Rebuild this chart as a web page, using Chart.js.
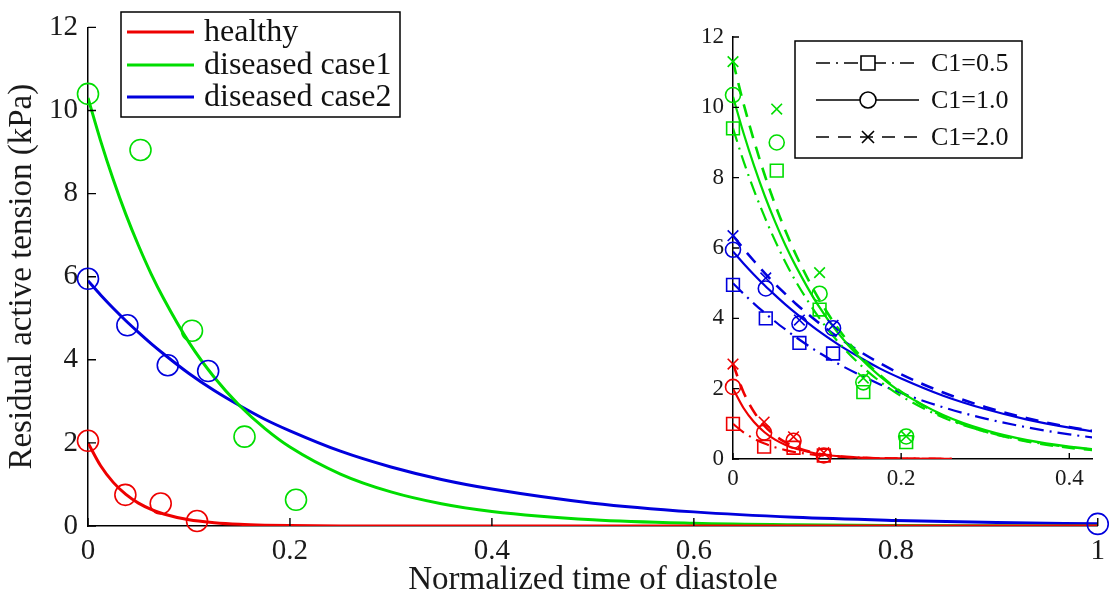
<!DOCTYPE html>
<html lang="en">
<head>
  <meta charset="UTF-8">
  <title>Residual active tension</title>
  <script src="https://cdn.jsdelivr.net/npm/chart.js"></script>
  <style>
    body { margin: 0; background: #fff; }
    #wrap { position: relative; width: 1113px; height: 601px; }
    #mainChart { position: absolute; left: 0; top: 0; }
    #insetChart { position: absolute; left: 690px; top: 14px; }
  </style>
</head>
<body>
  <div id="wrap">
    <canvas id="mainChart" width="1113" height="601"></canvas>
    <canvas id="insetChart" width="420" height="495"></canvas>
  </div>

  <script>
    // ---- main plot: fitted curves ----
    const mainT   = [0, 0.0125, 0.025, 0.0375, 0.05, 0.0625, 0.075, 0.1, 0.125, 0.15, 0.175, 0.2, 0.25, 0.3, 0.35, 0.4, 0.5, 0.6, 0.7, 0.8, 0.9, 1.0];
    const healthy = [2.0, 1.45, 1.05, 0.76, 0.55, 0.40, 0.29, 0.15, 0.08, 0.04, 0.02, 0.011, 0.003, 0.001, 0, 0, 0, 0, 0, 0, 0, 0];
    const case1   = [10.3, 9.27, 8.34, 7.50, 6.75, 6.07, 5.47, 4.42, 3.58, 2.90, 2.35, 1.90, 1.25, 0.82, 0.535, 0.35, 0.15, 0.065, 0.028, 0.012, 0.005, 0.002];
    const case2   = [5.9, 5.56, 5.24, 4.94, 4.66, 4.39, 4.14, 3.67, 3.26, 2.90, 2.57, 2.29, 1.80, 1.42, 1.12, 0.89, 0.55, 0.34, 0.21, 0.135, 0.083, 0.052];

    // ---- main plot: measured points ----
    const healthyPtsT = [0, 0.037, 0.072, 0.108];
    const healthyPts  = [2.05, 0.75, 0.54, 0.12];
    const case1PtsT   = [0, 0.052, 0.103, 0.155, 0.206];
    const case1Pts    = [10.4, 9.05, 4.7, 2.15, 0.63];
    const case2PtsT   = [0, 0.039, 0.079, 0.119, 1.0];
    const case2Pts    = [5.95, 4.83, 3.87, 3.73, 0.05];

    const seriesNames = ['healthy', 'diseased case1', 'diseased case2'];

    // ---- inset: curves for C1 = 0.5 / 1.0 / 2.0 ----
    const insetT  = [0, 0.0125, 0.025, 0.0375, 0.05, 0.0625, 0.075, 0.1, 0.125, 0.15, 0.175, 0.2, 0.25, 0.3, 0.35, 0.4, 0.45];
    const green05 = [9.4, 8.47, 7.64, 6.89, 6.21, 5.59, 5.04, 4.10, 3.33, 2.71, 2.20, 1.79, 1.18, 0.78, 0.51, 0.34, 0.22];
    const green10 = [10.3, 9.27, 8.34, 7.50, 6.75, 6.07, 5.47, 4.42, 3.58, 2.90, 2.35, 1.90, 1.25, 0.82, 0.535, 0.35, 0.23];
    const green20 = [11.3, 10.11, 9.05, 8.09, 7.24, 6.48, 5.80, 4.64, 3.71, 2.97, 2.38, 1.91, 1.22, 0.78, 0.50, 0.32, 0.21];
    const blue05  = [5.0, 4.70, 4.42, 4.16, 3.91, 3.68, 3.46, 3.06, 2.71, 2.40, 2.12, 1.88, 1.47, 1.15, 0.90, 0.70, 0.55];
    const blue10  = [5.9, 5.56, 5.24, 4.94, 4.66, 4.39, 4.14, 3.67, 3.26, 2.90, 2.57, 2.29, 1.80, 1.42, 1.12, 0.89, 0.70];
    const blue20  = [6.35, 5.98, 5.63, 5.29, 4.98, 4.69, 4.41, 3.91, 3.46, 3.07, 2.72, 2.41, 1.89, 1.48, 1.16, 0.91, 0.72];
    const insetRedT = [0, 0.0125, 0.025, 0.0375, 0.05, 0.0625, 0.075, 0.1, 0.125, 0.15, 0.175, 0.2, 0.25, 0.26];
    const red05   = [1.0, 0.76, 0.577, 0.438, 0.333, 0.253, 0.192, 0.111, 0.064, 0.037, 0.021, 0.012, 0.004, 0.003];
    const red10   = [2.0, 1.45, 1.05, 0.76, 0.55, 0.40, 0.29, 0.15, 0.08, 0.04, 0.02, 0.011, 0.003, 0.002];
    const red20   = [2.7, 1.90, 1.34, 0.945, 0.67, 0.47, 0.33, 0.16, 0.08, 0.04, 0.02, 0.01, 0.003, 0.002];

    // ---- inset: measured points ----
    const redPtsT   = [0, 0.037, 0.072, 0.108];
    const redSq     = [1.0, 0.35, 0.32, 0.1];
    const redCi     = [2.05, 0.75, 0.52, 0.1];
    const redX      = [2.7, 1.05, 0.63, 0.18];
    const greenPtsT = [0, 0.052, 0.103, 0.155, 0.206];
    const greenSq   = [9.4, 8.2, 4.25, 1.9, 0.48];
    const greenCi   = [10.35, 9.0, 4.7, 2.18, 0.64];
    const greenX    = [11.3, 9.95, 5.3, 2.3, 0.65];
    const bluePtsT  = [0, 0.039, 0.079, 0.119];
    const blueSq    = [4.95, 4.0, 3.3, 3.0];
    const blueCi    = [5.95, 4.85, 3.85, 3.72];
    const blueX     = [6.35, 5.15, 3.95, 3.8];

    const c1Names = ['C1=0.5', 'C1=1.0', 'C1=2.0'];

    const RED = '#ee0000', GREEN = '#00dd00', BLUE = '#0000dd';
    const FONT = '"Liberation Serif", "Times New Roman", serif';
    const DASHDOT = [14, 6, 2, 6];
    const DASHED = [13, 9];

    const pts = (xs, ys) => xs.map((x, i) => ({ x: x, y: ys[i] }));

    function curve(xs, ys, color, width, dash) {
      return {
        data: pts(xs, ys), borderColor: color, borderWidth: width, borderDash: dash || [],
        pointRadius: 0, fill: false, cubicInterpolationMode: 'monotone'
      };
    }
    function marks(xs, ys, color, style, r) {
      return {
        data: pts(xs, ys), showLine: false, borderColor: color, backgroundColor: 'rgba(0,0,0,0)',
        pointStyle: style, pointRadius: r, pointBorderWidth: 1.6, clip: false
      };
    }

    // tick marks pointing into the plot, like the original
    function inwardTicks(len) {
      return {
        id: 'inwardTicks',
        afterDraw(chart) {
          const ctx = chart.ctx, a = chart.chartArea;
          const xs = chart.scales.x, ys = chart.scales.y;
          ctx.save();
          ctx.strokeStyle = '#000';
          ctx.lineWidth = 1.4;
          ctx.beginPath();
          xs.ticks.forEach(t => {
            const p = xs.getPixelForValue(t.value);
            ctx.moveTo(p, a.bottom); ctx.lineTo(p, a.bottom - len);
          });
          ys.ticks.forEach(t => {
            const p = ys.getPixelForValue(t.value);
            ctx.moveTo(a.left, p); ctx.lineTo(a.left + len, p);
          });
          ctx.stroke();
          ctx.restore();
        }
      };
    }

    const mainLegend = {
      id: 'mainLegend',
      afterDraw(chart) {
        const ctx = chart.ctx;
        const colors = [RED, GREEN, BLUE];
        const rows = [32, 65, 97];
        ctx.save();
        ctx.fillStyle = '#fff';
        ctx.fillRect(121, 12, 279, 105);
        ctx.strokeStyle = '#000';
        ctx.lineWidth = 1.5;
        ctx.strokeRect(121, 12, 279, 105);
        ctx.font = '32px ' + FONT;
        ctx.textBaseline = 'middle';
        seriesNames.forEach((name, i) => {
          ctx.strokeStyle = colors[i];
          ctx.lineWidth = 3;
          ctx.beginPath();
          ctx.moveTo(127, rows[i]); ctx.lineTo(194, rows[i]);
          ctx.stroke();
          ctx.fillStyle = '#111';
          ctx.fillText(name, 204, rows[i] + 1);
        });
        ctx.restore();
      }
    };

    const insetLegend = {
      id: 'insetLegend',
      afterDraw(chart) {
        const ctx = chart.ctx;
        const rows = [49, 86, 123];
        const dashes = [DASHDOT, [], DASHED];
        ctx.save();
        ctx.fillStyle = '#fff';
        ctx.fillRect(105, 27, 227, 117);
        ctx.strokeStyle = '#000';
        ctx.lineWidth = 1.5;
        ctx.strokeRect(105, 27, 227, 117);
        ctx.font = '26px ' + FONT;
        ctx.textBaseline = 'middle';
        c1Names.forEach((name, i) => {
          const y = rows[i];
          ctx.strokeStyle = '#000';
          ctx.lineWidth = 1.6;
          ctx.setLineDash(dashes[i]);
          ctx.beginPath();
          ctx.moveTo(126, y); ctx.lineTo(229, y);
          ctx.stroke();
          ctx.setLineDash([]);
          ctx.beginPath();
          if (i === 0) {
            ctx.fillStyle = '#fff';
            ctx.fillRect(171, y - 7, 14, 14);
            ctx.rect(171, y - 7, 14, 14);
          } else if (i === 1) {
            ctx.fillStyle = '#fff';
            ctx.arc(178, y, 8, 0, Math.PI * 2);
            ctx.fill();
          } else {
            ctx.moveTo(172, y - 6); ctx.lineTo(184, y + 6);
            ctx.moveTo(172, y + 6); ctx.lineTo(184, y - 6);
          }
          ctx.stroke();
          ctx.fillStyle = '#111';
          ctx.fillText(name, 241, y + 1);
        });
        ctx.restore();
      }
    };

    const tickText = v => String(+Number(v).toFixed(3));

    function axes(opt) {
      return {
        x: {
          type: 'linear', min: 0, max: opt.xmax,
          grid: { display: false, drawTicks: false },
          border: { display: true, color: '#000', width: 1.5 },
          ticks: { stepSize: 0.2, includeBounds: false, maxRotation: 0, color: '#1a1a1a',
                   font: { family: FONT, size: opt.tickSize }, padding: opt.xPad, callback: tickText },
          title: opt.xTitle ? { display: true, text: opt.xTitle, color: '#1a1a1a',
                   font: { family: FONT, size: 33 }, padding: { top: 0, bottom: 1 } } : { display: false },
          afterFit: s => { s.height = opt.xh; }
        },
        y: {
          type: 'linear', min: 0, max: 12,
          grid: { display: false, drawTicks: false },
          border: { display: true, color: '#000', width: 1.5 },
          ticks: { stepSize: 2, color: '#1a1a1a', font: { family: FONT, size: opt.tickSize },
                   padding: opt.yPad, callback: tickText },
          title: opt.yTitle ? { display: true, text: opt.yTitle, color: '#1a1a1a',
                   font: { family: FONT, size: 33 }, padding: { top: 3, bottom: 0 } } : { display: false },
          afterFit: s => { s.width = opt.yw; }
        }
      };
    }

    new Chart(document.getElementById('mainChart'), {
      type: 'line',
      data: {
        datasets: [
          marks(healthyPtsT, healthyPts, RED, 'circle', 10.5),
          marks(case1PtsT, case1Pts, GREEN, 'circle', 10.5),
          marks(case2PtsT, case2Pts, BLUE, 'circle', 10.5),
          curve(mainT, healthy, RED, 3),
          curve(mainT, case1, GREEN, 3),
          curve(mainT, case2, BLUE, 3)
        ]
      },
      options: {
        responsive: false, animation: false, events: [],
        layout: { padding: { top: 17, right: 11, left: 0, bottom: 0 } },
        plugins: { legend: { display: false }, tooltip: { enabled: false } },
        scales: axes({ xmax: 1, tickSize: 29, xPad: 8, yPad: 10, xh: 75, yw: 88,
                       xTitle: 'Normalized time of diastole', yTitle: 'Residual active tension (kPa)' })
      },
      plugins: [inwardTicks(8), mainLegend]
    });

    new Chart(document.getElementById('insetChart'), {
      type: 'line',
      data: {
        datasets: [
          marks(redPtsT, redSq, RED, 'rect', 9),
          marks(redPtsT, redCi, RED, 'circle', 7.5),
          marks(redPtsT, redX, RED, 'crossRot', 7.5),
          marks(greenPtsT, greenSq, GREEN, 'rect', 9),
          marks(greenPtsT, greenCi, GREEN, 'circle', 7.5),
          marks(greenPtsT, greenX, GREEN, 'crossRot', 7.5),
          marks(bluePtsT, blueSq, BLUE, 'rect', 9),
          marks(bluePtsT, blueCi, BLUE, 'circle', 7.5),
          marks(bluePtsT, blueX, BLUE, 'crossRot', 7.5),
          curve(insetRedT, red05, RED, 2.2, DASHDOT),
          curve(insetRedT, red10, RED, 2.2),
          curve(insetRedT, red20, RED, 2.6, DASHED),
          curve(insetT, green05, GREEN, 2.2, DASHDOT),
          curve(insetT, green10, GREEN, 2.2),
          curve(insetT, green20, GREEN, 2.6, DASHED),
          curve(insetT, blue05, BLUE, 2.2, DASHDOT),
          curve(insetT, blue10, BLUE, 2.2),
          curve(insetT, blue20, BLUE, 2.6, DASHED)
        ]
      },
      options: {
        responsive: false, animation: false, events: [],
        layout: { padding: { top: 23, right: 18, left: 0, bottom: 0 } },
        plugins: { legend: { display: false }, tooltip: { enabled: false } },
        scales: axes({ xmax: 0.427, tickSize: 23, xPad: 6, yPad: 9, xh: 50, yw: 43 })
      },
      plugins: [inwardTicks(6), insetLegend]
    });
  </script>
</body>
</html>
